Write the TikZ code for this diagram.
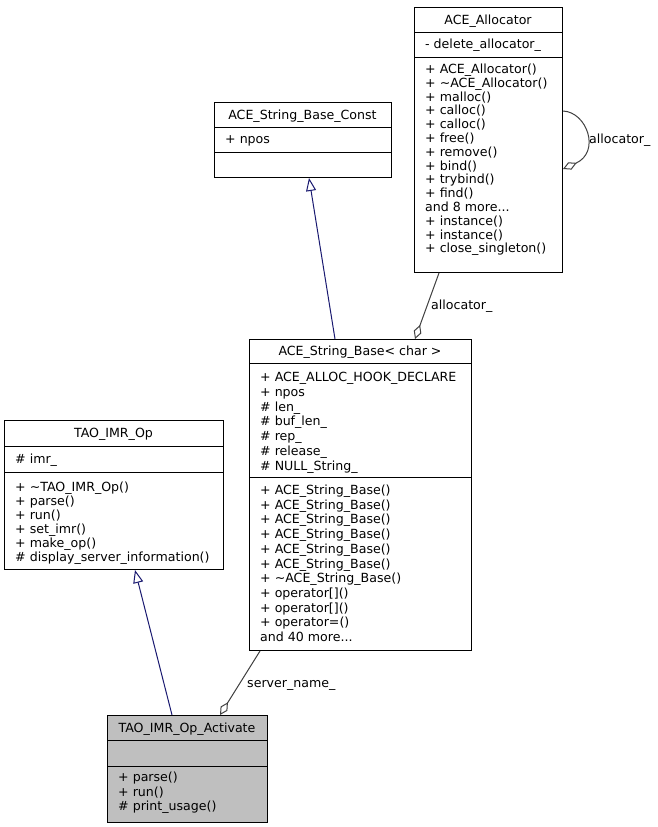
\documentclass[tikz,border=0pt]{standalone}
\usepackage{fontspec}
\setmainfont{DejaVu Sans}
\usetikzlibrary{arrows.meta}
\definecolor{navyline}{HTML}{191970}
\definecolor{usegray}{HTML}{404040}
\definecolor{boxgray}{HTML}{BFBFBF}
\def\dfont{\fontsize{12.6}{14}\selectfont}
\def\more{...}
\tikzset{
  classbox/.style={draw, line width=1pt, inner sep=0, anchor=north west},
  cname/.style={font=\dfont, inner sep=0, anchor=base},
  member/.style={font=\dfont, inner sep=0, anchor=base west},
  inherit/.style={draw=navyline, line width=1pt, -{Triangle[open, length=13pt, width=10pt]}},
  usage/.style={draw=usegray, line width=1pt, -{Diamond[open, length=15pt, width=8pt]}},
  elabel/.style={font=\dfont, inner sep=0, anchor=base west}
}

\begin{document}
\begin{tikzpicture}[x=1pt, y=-1pt]
			%%%%% START %%%%%
			\useasboundingbox (0,0) rectangle (657,827);
			
			% ACE_Allocator
			\node[classbox, minimum width=148pt, minimum height=265pt] (alloc) at (414,7) {};
			\draw[line width=1pt] (414,32) -- (562,32);
			\draw[line width=1pt] (414,57) -- (562,57);
			\node[cname] at (488,24) {ACE\_Allocator};
			\node[member] at (425,48.5) {- delete\_allocator\_};
			\foreach \m [count=\i from 0] in {+ ACE\_Allocator(), + \textasciitilde ACE\_Allocator(), + malloc(), + calloc(), + calloc(), + free(), + remove(), + bind(), + trybind(), + find(), and 8 more\more, + instance(), + instance(), + close\_singleton()}
				\node[member] at (425,{73.5+13.8*\i}) {\m};
			
			% ACE_String_Base_Const
			\node[classbox, minimum width=177pt, minimum height=75pt] (strconst) at (214,102) {};
			\draw[line width=1pt] (214,127) -- (391,127);
			\draw[line width=1pt] (214,152) -- (391,152);
			\node[cname] at (302.5,119) {ACE\_String\_Base\_Const};
			\node[member] at (225,143.5) {+ npos};
			
			% ACE_String_Base< char >
			\node[classbox, minimum width=222pt, minimum height=311pt] (strbase) at (249,339) {};
			\draw[line width=1pt] (249,363) -- (471,363);
			\draw[line width=1pt] (249,477) -- (471,477);
			\node[cname] at (360,355.5) {ACE\_String\_Base< char >};
			\foreach \m [count=\i from 0] in {+ ACE\_ALLOC\_HOOK\_DECLARE, + npos, \# len\_, \# buf\_len\_, \# rep\_, \# release\_, \# NULL\_String\_}
				\node[member] at (260,{381.5+14.75*\i}) {\m};
			\foreach \m [count=\i from 0] in {+ ACE\_String\_Base(), + ACE\_String\_Base(), + ACE\_String\_Base(), + ACE\_String\_Base(), + ACE\_String\_Base(), + ACE\_String\_Base(), + \textasciitilde ACE\_String\_Base(), + operator[](), + operator[](), + operator=(), and 40 more\more}
				\node[member] at (260,{494.5+14.7*\i}) {\m};
			
			% TAO_IMR_Op
			\node[classbox, minimum width=219pt, minimum height=149pt] (taoop) at (4,420) {};
			\draw[line width=1pt] (4,446) -- (223,446);
			\draw[line width=1pt] (4,472) -- (223,472);
			\node[cname] at (113.5,437.5) {TAO\_IMR\_Op};
			\node[member] at (15,463.5) {\# imr\_};
			\foreach \m [count=\i from 0] in {+ \textasciitilde TAO\_IMR\_Op(), + parse(), + run(), + set\_imr(), + make\_op(), \# display\_server\_information()}
				\node[member] at (15,{491.5+14*\i}) {\m};
			
			% TAO_IMR_Op_Activate
			\node[classbox, fill=boxgray, minimum width=160pt, minimum height=107pt] (activate) at (107,715) {};
			\draw[line width=1pt] (107,740) -- (267,740);
			\draw[line width=1pt] (107,766) -- (267,766);
			\node[cname] at (187,732) {TAO\_IMR\_Op\_Activate};
			\foreach \m [count=\i from 0] in {+ parse(), + run(), \# print\_usage()}
				\node[member] at (118,{781.5+14.5*\i}) {\m};
			
			% inheritance
			\draw[inherit] ([xshift=86pt]strbase.north west) -- ([xshift=95pt]strconst.south west);
			\draw[inherit] ([xshift=65pt]activate.north west) -- ([xshift=131pt]taoop.south west);
			
			% usage
			\draw[usage] ([xshift=25pt]alloc.south west) -- ([xshift=166pt]strbase.north west);
			\node[elabel] at (431,309.5) {allocator\_};
			\draw[usage] ([xshift=11pt]strbase.south west) -- ([xshift=113pt]activate.north west);
			\node[elabel] at (247,687.5) {server\_name\_};
			\draw[usage] ([yshift=-104pt]alloc.north east) .. controls ([xshift=24pt, yshift=-105pt]alloc.north east) and ([xshift=38pt, yshift=-145pt]alloc.north east) .. ([yshift=-162pt]alloc.north east);
			\node[elabel] at (589,143.5) {allocator\_};
			
			%%%%% END %%%%%
		\end{tikzpicture}
\end{document}
